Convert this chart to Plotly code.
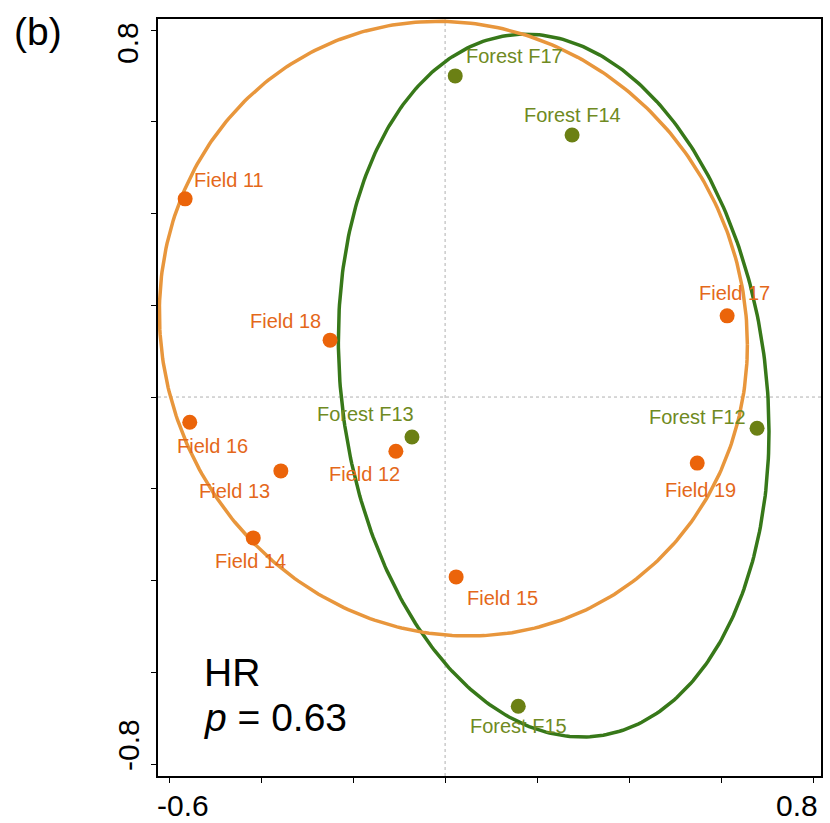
import numpy as np
import plotly.graph_objects as go

# ---- data ----
field_names = ["Field 11", "Field 18", "Field 16", "Field 13", "Field 14",
               "Field 12", "Field 15", "Field 17", "Field 19"]
field_x = [-0.565, -0.250, -0.555, -0.357, -0.417, -0.107, 0.024, 0.613, 0.548]
field_y = [0.432, 0.124, -0.055, -0.161, -0.307, -0.118, -0.392, 0.177, -0.144]

forest_names = ["Forest F17", "Forest F14", "Forest F13", "Forest F12", "Forest F15"]
forest_x = [0.022, 0.276, -0.072, 0.678, 0.159]
forest_y = [0.700, 0.571, -0.087, -0.068, -0.674]

# ellipse summaries: centre x, centre y, half-width x, half-height y, correlation
field_ellipse = [0.018, 0.149, 0.639, 0.670, -0.052]
forest_ellipse = [0.236, 0.025, 0.468, 0.766, -0.13]

x_ticks = [-0.6, -0.4, -0.2, 0.0, 0.2, 0.4, 0.6, 0.8]
y_ticks = [-0.8, -0.6, -0.4, -0.2, 0.0, 0.2, 0.4, 0.6, 0.8]
x_ticklabels = ["-0.6", "0.8"]
y_ticklabels = ["-0.8", "0.8"]

panel_label = "(b)"
stat_title = "HR"
stat_p = "<i>p</i> = 0.63"

# ---- styling ----
FIELD_PT = "#EB640A"
FIELD_TXT = "#E4681A"
FOREST_PT = "#6B8014"
FOREST_TXT = "#6F8A22"
FIELD_ELL = "#E8963C"
FOREST_ELL = "#377819"
FONT = "Liberation Sans, Arial, sans-serif"

# label offsets in pixels (dx, dy up)
field_off = [(44, 19), (-45, 19), (23, -24), (-46, -20), (-3, -23),
             (-31, -23), (46, -21), (7, 23), (3, -27)]
forest_off = [(59, 20), (0, 20), (-46, 23), (-60, 11), (0, -20)]
# tick label placements (paper coords)
x_ticklabel_pos = [(0.0377, -0.039), (0.9638, -0.039)]
y_ticklabel_pos = [(-0.0437, 0.041), (-0.0452, 0.9683)]


def ellipse_path(p, n=400):
    cx, cy, hx, hy, r = p
    t = np.linspace(0, 2 * np.pi, n)
    phi = np.arccos(r)
    return cx + hx * np.cos(t), cy + hy * np.cos(t - phi)


fig = go.Figure()

for p, col in [(forest_ellipse, FOREST_ELL), (field_ellipse, FIELD_ELL)]:
    ex, ey = ellipse_path(p)
    fig.add_trace(go.Scatter(x=ex, y=ey, mode="lines",
                             line=dict(color=col, width=3.5),
                             hoverinfo="skip", showlegend=False))

fig.add_trace(go.Scatter(x=field_x, y=field_y, mode="markers",
                         marker=dict(size=15, color=FIELD_PT),
                         text=field_names, showlegend=False))
fig.add_trace(go.Scatter(x=forest_x, y=forest_y, mode="markers",
                         marker=dict(size=15, color=FOREST_PT),
                         text=forest_names, showlegend=False))

annotations = []
for names, xs, ys, offs, col in [
        (field_names, field_x, field_y, field_off, FIELD_TXT),
        (forest_names, forest_x, forest_y, forest_off, FOREST_TXT)]:
    for nm, xv, yv, (dx, dy) in zip(names, xs, ys, offs):
        annotations.append(dict(x=xv, y=yv, xref="x", yref="y", text=nm,
                                showarrow=False, xshift=dx, yshift=dy,
                                font=dict(family=FONT, size=20, color=col)))

for lab, (px, py) in zip(x_ticklabels, x_ticklabel_pos):
    annotations.append(dict(x=px, y=py, xref="paper", yref="paper", text=lab,
                            showarrow=False, xanchor="center", yanchor="middle",
                            font=dict(family=FONT, size=30, color="black")))
for lab, (px, py) in zip(y_ticklabels, y_ticklabel_pos):
    annotations.append(dict(x=px, y=py, xref="paper", yref="paper", text=lab,
                            showarrow=False, xanchor="center", yanchor="middle",
                            textangle=-90,
                            font=dict(family=FONT, size=30, color="black")))

annotations.append(dict(x=-0.2202, y=0.984, xref="paper", yref="paper",
                        text=panel_label, showarrow=False, xanchor="left",
                        yanchor="middle",
                        font=dict(family=FONT, size=39, color="black")))
annotations.append(dict(x=0.067, y=0.137, xref="paper", yref="paper",
                        text=stat_title, showarrow=False, xanchor="left",
                        yanchor="middle",
                        font=dict(family=FONT, size=39, color="black")))
annotations.append(dict(x=0.067, y=0.077, xref="paper", yref="paper",
                        text=stat_p, showarrow=False, xanchor="left",
                        yanchor="middle",
                        font=dict(family=FONT, size=39, color="black")))

shapes = [
    dict(type="line", xref="x", yref="paper", x0=0, x1=0, y0=0, y1=1,
         line=dict(color="#B0B0B0", width=1, dash="dot"), layer="below"),
    dict(type="line", xref="paper", yref="y", x0=0, x1=1, y0=0, y1=0,
         line=dict(color="#B0B0B0", width=1, dash="dot"), layer="below"),
]

fig.update_layout(
    width=830, height=823,
    margin=dict(l=158, r=9, t=19, b=47, autoexpand=False),
    plot_bgcolor="white", paper_bgcolor="white",
    annotations=annotations, shapes=shapes,
    showlegend=False,
    xaxis=dict(range=[-0.624, 0.817], tickvals=x_ticks, showticklabels=False,
               automargin=False,
               showgrid=False, zeroline=False, showline=True, mirror=True,
               linecolor="black", linewidth=1.5, ticks="outside", ticklen=5,
               tickwidth=1.3, tickcolor="black"),
    yaxis=dict(range=[-0.826, 0.824], tickvals=y_ticks, showticklabels=False,
               automargin=False,
               showgrid=False, zeroline=False, showline=True, mirror=True,
               linecolor="black", linewidth=1.5, ticks="outside", ticklen=5,
               tickwidth=1.3, tickcolor="black"),
)

fig.write_html("out.html",
               config={"displayModeBar": False},
               post_script="document.body.style.margin='0px';"
                           "document.body.style.overflow='hidden';")
